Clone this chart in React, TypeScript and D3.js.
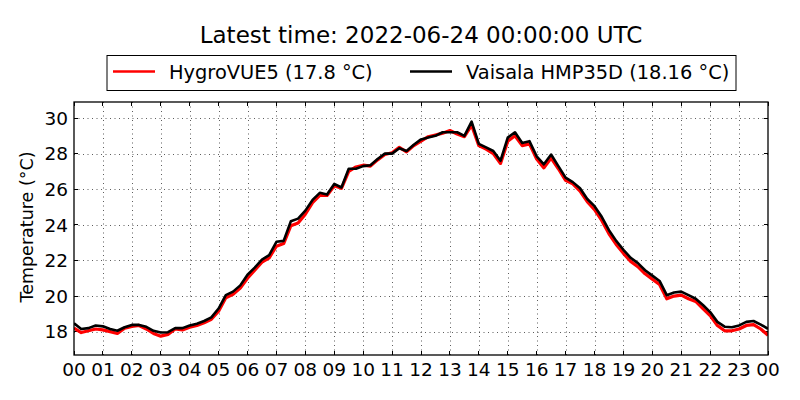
import React, { useEffect } from 'react'
import * as d3 from 'd3'

// hours since 00 UTC, 15 minute steps
const hours = d3.range(0, 24.001, 0.25)

const hygroVUE5 = [
  18.2, 17.95, 18.05, 18.15, 18.1, 18.0, 17.9, 18.2, 18.3, 18.35, 18.15, 17.9,
  17.75, 17.85, 18.15, 18.1, 18.25, 18.35, 18.5, 18.7, 19.15, 19.9, 20.1, 20.45,
  21.0, 21.45, 21.9, 22.15, 22.8, 22.95, 23.95, 24.1, 24.6, 25.25, 25.65, 25.65,
  26.2, 26.05, 27.0, 27.25, 27.35, 27.3, 27.65, 27.95, 28.05, 28.35, 28.1, 28.45,
  28.7, 28.95, 29.05, 29.15, 29.3, 29.1, 28.95, 29.6, 28.45, 28.25, 28.0, 27.45,
  28.7, 29.0, 28.45, 28.55, 27.7, 27.2, 27.75, 27.15, 26.5, 26.3, 25.9, 25.3,
  24.85, 24.25, 23.5, 22.9, 22.4, 21.95, 21.65, 21.25, 20.95, 20.65, 19.85, 20.0,
  20.05, 19.85, 19.7, 19.3, 18.9, 18.35, 18.05, 18.05, 18.15, 18.35, 18.4, 18.15,
  17.8,
]

const hmp35d = [
  18.47, 18.15, 18.2, 18.35, 18.3, 18.15, 18.05, 18.25, 18.38, 18.38, 18.27, 18.05,
  17.95, 17.97, 18.2, 18.2, 18.35, 18.45, 18.6, 18.8, 19.3, 20.05, 20.25, 20.6,
  21.2, 21.6, 22.05, 22.3, 23.05, 23.1, 24.2, 24.35, 24.8, 25.4, 25.8, 25.7,
  26.3, 26.1, 27.15, 27.15, 27.3, 27.35, 27.7, 28.0, 28.0, 28.3, 28.15, 28.5,
  28.8, 28.9, 29.0, 29.2, 29.2, 29.2, 29.0, 29.8, 28.55, 28.35, 28.15, 27.6,
  28.9, 29.2, 28.6, 28.7, 27.85, 27.4, 27.95, 27.3, 26.65, 26.4, 26.05, 25.45,
  25.05, 24.45, 23.7, 23.1, 22.6, 22.15, 21.85, 21.45, 21.15, 20.85, 20.05, 20.2,
  20.25, 20.05, 19.85, 19.5, 19.1, 18.55, 18.28, 18.25, 18.35, 18.55, 18.6, 18.4,
  18.16,
]

const series = [
  { name: 'HygroVUE5 (17.8 °C)', color: '#ff0000', width: 3.2, values: hygroVUE5 },
  { name: 'Vaisala HMP35D (18.16 °C)', color: '#000000', width: 2.6, values: hmp35d },
]

const xTicks = d3.range(0, 25, 1)
const yTicks = [18, 20, 22, 24, 26, 28, 30]
const title = 'Latest time: 2022-06-24 00:00:00 UTC'

const W = 800
const H = 400
const m = { left: 74, right: 32, top: 102, bottom: 45 }
const font = 'DejaVu Sans, sans-serif'

export default function App() {
  useEffect(() => {
    document.body.style.margin = '0'
  }, [])

  const x = d3.scaleLinear().domain([0, 24]).range([m.left, W - m.right])
  const y = d3.scaleLinear().domain([16.69, 30.9]).range([H - m.bottom, m.top])
  const [x0, x1] = x.range()
  const [y0, y1] = y.range()

  const line = (vals: number[]) =>
    d3
      .line<number>()
      .x((_, i) => x(hours[i]))
      .y((d) => y(d))(vals) || ''

  return (
    <svg width={W} height={H} style={{ display: 'block', fontFamily: font }}>
      <rect width={W} height={H} fill="#fff" />
      <defs>
        <clipPath id="plot">
          <rect x={x0} y={y1} width={x1 - x0} height={y0 - y1} />
        </clipPath>
      </defs>

      {/* grid */}
      <g stroke="#333" strokeWidth={0.8} strokeDasharray="1,3.5">
        {xTicks.slice(1, -1).map((t) => (
          <line key={'gx' + t} x1={Math.round(x(t)) + 0.5} x2={Math.round(x(t)) + 0.5} y1={y1} y2={y0} />
        ))}
        {yTicks.map((t) => (
          <line key={'gy' + t} x1={x0} x2={x1} y1={Math.round(y(t)) + 0.5} y2={Math.round(y(t)) + 0.5} />
        ))}
      </g>

      {/* inward ticks on all sides */}
      <g stroke="#000" strokeWidth={1} shapeRendering="crispEdges">
        {xTicks.map((t) => (
          <g key={'tx' + t}>
            <line x1={x(t)} x2={x(t)} y1={y0} y2={y0 - 4} />
            <line x1={x(t)} x2={x(t)} y1={y1} y2={y1 + 4} />
          </g>
        ))}
        {yTicks.map((t) => (
          <g key={'ty' + t}>
            <line x1={x0} x2={x0 + 4} y1={y(t)} y2={y(t)} />
            <line x1={x1} x2={x1 - 4} y1={y(t)} y2={y(t)} />
          </g>
        ))}
      </g>

      <g clipPath="url(#plot)" fill="none" strokeLinejoin="round">
        {series.map((s) => (
          <path key={s.name} d={line(s.values)} stroke={s.color} strokeWidth={s.width} />
        ))}
      </g>

      <rect x={x0} y={y1} width={x1 - x0} height={y0 - y1} fill="none" stroke="#000" strokeWidth={1.3} />

      {/* tick labels */}
      <g fontSize={18.5} fill="#000">
        {xTicks.map((t) => (
          <text key={'lx' + t} x={x(t)} y={y0 + 21} textAnchor="middle">
            {String(t % 24).padStart(2, '0')}
          </text>
        ))}
        {yTicks.map((t) => (
          <text key={'ly' + t} x={x0 - 6} y={y(t)} dy="0.36em" textAnchor="end">
            {t}
          </text>
        ))}
      </g>

      <text transform="translate(33,227) rotate(-90)" textAnchor="middle" fontSize={17.5}>
        Temperature (°C)
      </text>

      <text x={(x0 + x1) / 2} y={43} textAnchor="middle" fontSize={23}>
        {title}
      </text>

      {/* legend */}
      <rect x={107} y={55.5} width={629} height={35} fill="#fff" stroke="#000" strokeWidth={1} />
      {series.map((s, i) => {
        const lx = i === 0 ? 113 : 410
        return (
          <g key={'lg' + i}>
            <line x1={lx} x2={lx + 42} y1={71.5} y2={71.5} stroke={s.color} strokeWidth={2.6} />
            <text x={lx + 56} y={78.5} fontSize={19.4}>
              {s.name}
            </text>
          </g>
        )
      })}
    </svg>
  )
}
